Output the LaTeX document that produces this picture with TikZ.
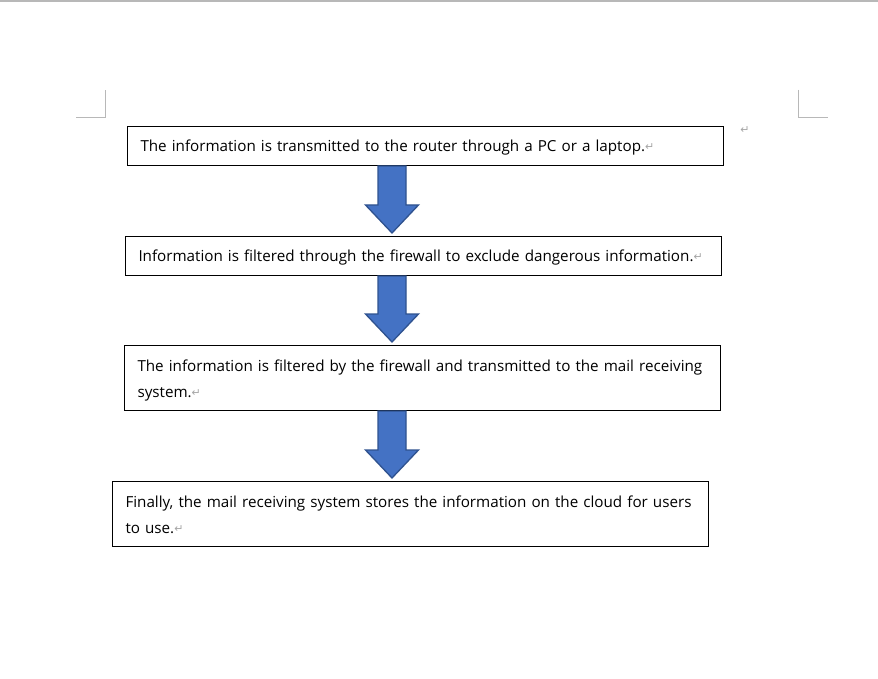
\documentclass[tikz,border=0pt]{standalone}
\usepackage{fontspec}
\setmainfont{Open Sans}
\newfontfamily\markfont{DejaVu Sans}
\usetikzlibrary{calc,positioning}
\definecolor{arrowfill}{HTML}{4472C4}
\definecolor{arrowline}{HTML}{2F528F}
\definecolor{markgray}{HTML}{A6A6A6}
\tikzstyle{textbox} = [rectangle, draw=black, line width=1pt, anchor=north west, text width=590pt, inner xsep=3pt, inner ysep=0pt, minimum height=39pt, text depth=0pt, align=left, font=\fontsize{15.2}{26}\selectfont, execute at begin node={\leftskip=10pt\relax}]
\tikzstyle{twoline} = [minimum height=65pt, text depth=25pt]
\tikzstyle{blockarrow} = [draw=arrowline, line width=1.3pt, fill=arrowfill, line join=miter]
\tikzstyle{cropmark} = [draw=markgray!80, line width=1pt]
\newcommand{\pmark}{\textcolor{markgray}{\markfont\fontsize{11}{11}\selectfont\raisebox{1pt}{↵}}}
\newcommand{\flowarrow}[2]{%
  \draw [blockarrow] let \p1 = (axis |- #1.south), \p2 = (axis |- #2.north) in
    (\x1-14pt,\y1) -- (\x1+14pt,\y1) -- (\x1+14pt,\y2+31pt) -- (\x1+26.5pt,\y2+31pt)
    -- (\x1,\y2+3pt) -- (\x1-26.5pt,\y2+31pt) -- (\x1-14pt,\y2+31pt) -- cycle;}

\begin{document}
\begin{tikzpicture}[x=1pt, y=-1pt]
    \useasboundingbox [fill=white] (0,0) rectangle (878,679);
    \draw [cropmark, line width=2pt] (0,1) -- (878,1);
    \draw [cropmark] (76,118) -- (105,118) -- (105,90);
    \draw [cropmark] (798,90) -- (798,118) -- (828,118);

    \coordinate (axis) at (392,0);
    \node (send) [textbox] at (127,126) {The information is transmitted to the router through a PC or a laptop.\pmark};
    \node (endmark) at (745,131) {\pmark};
    \node (filter) [textbox] at (125,236) {Information is filtered through the firewall to exclude dangerous information.\pmark};
    \node (forward) [textbox, twoline] at (124,345) {The information is filtered by the firewall and transmitted to the mail receiving\\system.\pmark};
    \node (store) [textbox, twoline] at (112,481) {Finally, the mail receiving system stores the information on the cloud for users\\to use.\pmark};

    \flowarrow{send}{filter}
    \flowarrow{filter}{forward}
    \flowarrow{forward}{store}

\end{tikzpicture}
\end{document}
